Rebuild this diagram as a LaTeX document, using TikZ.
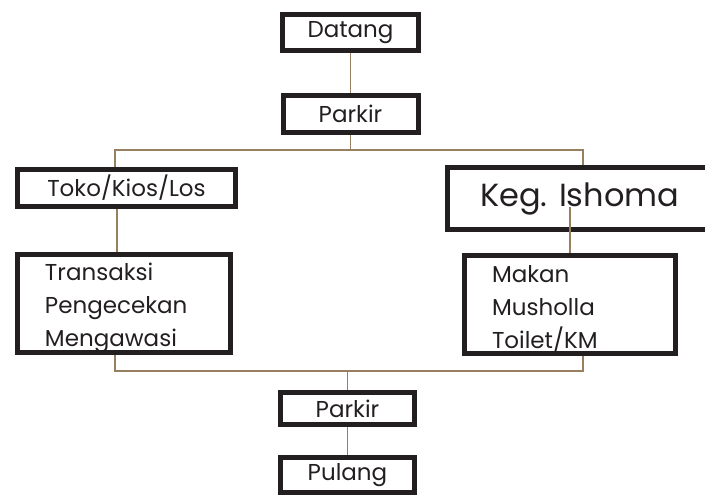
\documentclass[tikz,border=0pt]{standalone}
\usepackage{fontspec}
\setmainfont{Poppins}
\usetikzlibrary{positioning}
\definecolor{ink}{HTML}{231F20}
\definecolor{tan}{RGB}{150,128,96}
\tikzset{
	box/.style={draw=ink,line width=5pt,text=ink,inner sep=0pt,font=\fontsize{23}{27}\selectfont},
	list/.style={box,align=left,inner xsep=27.5pt,font=\fontsize{23}{33}\selectfont},
	link/.style={draw=tan,line width=1.5pt}
}

\begin{document}
\begin{tikzpicture}[x=1pt,y=-1pt,on grid]
	\useasboundingbox (0,0) rectangle (705,497);
	\node[box,minimum width=136pt,minimum height=36pt] (datang) at (350.5,32.5) {Datang};
	\node[box,minimum width=135pt,minimum height=37pt] (parkir) [below=81.5pt of datang] {Parkir};
	\node[box,minimum width=218pt,minimum height=37pt] (toko) [below left=74pt and 224pt of parkir] {Toko/Kios/Los};
	\node[box,minimum width=264.5pt,minimum height=62pt,font=\fontsize{32}{36}\selectfont] (keg) [below right=85pt and 229.25pt of parkir] {Keg. Ishoma};
	\node[list,text width=158pt,minimum height=96pt] (trans) [below left=115.5pt and 2.5pt of toko] {\rule{0pt}{26pt}Transaksi\\Pengecekan\\Mengawasi};
	\node[list,text width=156pt,minimum height=98pt] (makan) [below left=105.5pt and 9.75pt of keg] {\rule{0pt}{26pt}Makan\\Musholla\\Toilet/KM};
	\node[box,minimum width=134pt,minimum height=32pt] (parkirb) [below left=294.5pt and 3pt of parkir] {Parkir};
	\node[box,minimum width=134pt,minimum height=35pt] (pulang) [below=66.5pt of parkirb] {Pulang};
	% titik cabang
	\coordinate[below=36pt of parkir] (split);
	\coordinate[below left=8pt and 9.75pt of keg] (kegin);
	\coordinate[above=37.5pt of parkirb] (join);
	\draw[link] (datang) -- (parkir);
	\draw[link] (parkir) -- (split);
	\draw[link] ([xshift=-11.5pt]toko.north) |- (split) -| ([xshift=3.25pt]keg.north);
	\draw[link] ([xshift=-9.5pt]toko.south) -- ([xshift=-9.5pt]toko.south |- trans.north);
	\draw[link] (kegin) -- (makan.north);
	\draw[link] ([xshift=-9pt]trans.south) |- (join) -| ([xshift=13pt]makan.south);
	\draw[link] (join) -- (parkirb);
	\draw[link] (parkirb) -- (pulang);
\end{tikzpicture}
\end{document}
